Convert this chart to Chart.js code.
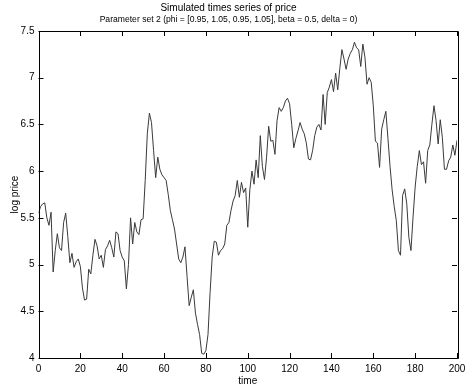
<!DOCTYPE html>
<html>
<head>
<meta charset="utf-8">
<script src="https://cdn.jsdelivr.net/npm/chart.js@4.4.1/dist/chart.umd.min.js"></script>
<style>
  html, body { margin: 0; padding: 0; background: #fff; }
  #chart { display: block; }
</style>
</head>
<body>
<canvas id="chart" width="471" height="391"></canvas>
<script>
// ── data ───────────────────────────────────────────────────────
const titleLine = 'Simulated times series of price';
const subtitleLine = 'Parameter set 2 (phi = [0.95, 1.05, 0.95, 1.05], beta = 0.5, delta = 0)';

const logPrice = [
  5.55, 5.62, 5.65, 5.66, 5.50, 5.42, 5.56, 4.92, 5.15, 5.33,
  5.18, 5.15, 5.45, 5.55, 5.30, 5.02, 5.12, 4.97, 5.03, 5.06,
  4.98, 4.75, 4.62, 4.63, 4.95, 4.90, 5.10, 5.27, 5.20, 5.06,
  5.10, 4.97, 5.16, 5.20, 5.26, 5.18, 5.08, 5.35, 5.33, 5.15,
  5.08, 5.04, 4.74, 5.00, 5.50, 5.22, 5.45, 5.35, 5.32, 5.48,
  5.49, 5.90, 6.40, 6.62, 6.52, 6.22, 5.93, 6.15, 6.02, 5.96,
  5.93, 5.90, 5.75, 5.58, 5.48, 5.38, 5.22, 5.06, 5.02, 5.08,
  5.19, 4.87, 4.56, 4.65, 4.73, 4.48, 4.36, 4.25, 4.05, 4.04,
  4.08, 4.25, 4.70, 5.08, 5.25, 5.24, 5.10, 5.15, 5.17, 5.22,
  5.42, 5.45, 5.58, 5.68, 5.74, 5.90, 5.72, 5.88, 5.77, 5.82,
  5.40, 5.80, 6.00, 5.86, 6.12, 5.93, 6.38, 6.05, 5.91, 6.15,
  6.48, 6.32, 6.33, 6.18, 6.54, 6.68, 6.64, 6.68, 6.75, 6.78,
  6.72, 6.50, 6.25, 6.35, 6.43, 6.52, 6.45, 6.40, 6.30, 6.13,
  6.12, 6.22, 6.38, 6.47, 6.50, 6.44, 6.82, 6.50, 6.84, 6.90,
  6.98, 6.85, 7.05, 6.87, 7.10, 7.30, 7.20, 7.09, 7.20, 7.26,
  7.30, 7.38, 7.32, 7.30, 7.12, 7.36, 7.22, 6.93, 7.00, 6.95,
  6.70, 6.32, 6.30, 6.04, 6.45, 6.55, 6.64, 6.35, 6.05, 5.80,
  5.62, 5.47, 5.15, 5.10, 5.74, 5.81, 5.65, 5.29, 5.15, 5.51,
  5.83, 6.05, 6.22, 6.07, 6.10, 5.87, 6.22, 6.28, 6.50, 6.70,
  6.54, 6.29, 6.55, 6.36, 6.02, 6.02, 6.11, 6.15, 6.28, 6.17,
  6.33
];
const timeSteps = logPrice.map((_, i) => i);

const xTicks = [0, 20, 40, 60, 80, 100, 120, 140, 160, 180, 200];
const yTicks = [4, 4.5, 5, 5.5, 6, 6.5, 7, 7.5];

// ── style ──────────────────────────────────────────────────────
const FONT_FAMILY = "'Liberation Sans', Arial, sans-serif";
const AXIS_COLOR = '#000';
const LINE_COLOR = '#3a3a3a';
const TICK_IN = 5;

// box + inward ticks on all four sides, like the original figure
const matlabBox = {
  id: 'matlabBox',
  afterDraw(chart) {
    const { ctx, chartArea: a, scales: { x, y } } = chart;
    ctx.save();
    ctx.strokeStyle = AXIS_COLOR;
    ctx.lineWidth = 1;
    ctx.beginPath();
    ctx.rect(Math.round(a.left) + 0.5, Math.round(a.top) + 0.5,
      Math.round(a.right - a.left), Math.round(a.bottom - a.top));
    xTicks.forEach(v => {
      const px = Math.round(x.getPixelForValue(v)) + 0.5;
      ctx.moveTo(px, a.bottom); ctx.lineTo(px, a.bottom - TICK_IN);
      ctx.moveTo(px, a.top); ctx.lineTo(px, a.top + TICK_IN);
    });
    yTicks.forEach(v => {
      const py = Math.round(y.getPixelForValue(v)) + 0.5;
      ctx.moveTo(a.left, py); ctx.lineTo(a.left + TICK_IN, py);
      ctx.moveTo(a.right, py); ctx.lineTo(a.right - TICK_IN, py);
    });
    ctx.stroke();
    ctx.restore();
  }
};

const ctx = document.getElementById('chart').getContext('2d');

new Chart(ctx, {
  type: 'line',
  data: {
    datasets: [{
      label: 'log price',
      data: timeSteps.map((t, i) => ({ x: t, y: logPrice[i] })),
      borderColor: LINE_COLOR,
      borderWidth: 1,
      pointRadius: 0,
      fill: false,
      tension: 0
    }]
  },
  options: {
    responsive: false,
    animation: false,
    layout: { padding: { left: 0, right: 14, top: 0, bottom: 0 } },
    plugins: {
      legend: { display: false },
      tooltip: { enabled: false },
      title: {
        display: true,
        text: titleLine,
        color: '#000',
        font: { family: FONT_FAMILY, size: 10, weight: 'normal', lineHeight: 1.2 },
        padding: { top: 2, bottom: 0 }
      },
      subtitle: {
        display: true,
        text: subtitleLine,
        color: '#000',
        font: { family: FONT_FAMILY, size: 8.6, weight: 'normal', lineHeight: 1.3 },
        padding: { top: 0, bottom: 5.8 }
      }
    },
    scales: {
      x: {
        type: 'linear',
        min: 0,
        max: 200,
        afterBuildTicks: s => { s.ticks = xTicks.map(v => ({ value: v })); },
        afterFit: s => { s.height = 33; },
        grid: { display: false, drawTicks: false },
        border: { display: false },
        ticks: {
          color: '#000',
          padding: 5,
          maxRotation: 0,
          font: { family: FONT_FAMILY, size: 10 }
        },
        title: {
          display: true,
          text: 'time',
          color: '#000',
          font: { family: FONT_FAMILY, size: 10 },
          padding: { top: 0, bottom: 4 }
        }
      },
      y: {
        type: 'linear',
        min: 4,
        max: 7.5,
        afterBuildTicks: s => { s.ticks = yTicks.map(v => ({ value: v })); },
        afterFit: s => { s.width = 38.5; },
        grid: { display: false, drawTicks: false },
        border: { display: false },
        ticks: {
          color: '#000',
          padding: 4,
          font: { family: FONT_FAMILY, size: 10 },
          callback: v => String(v)
        },
        title: {
          display: true,
          text: 'log price',
          color: '#000',
          font: { family: FONT_FAMILY, size: 10 },
          padding: { top: 9, bottom: 0 }
        }
      }
    }
  },
  plugins: [matlabBox]
});
</script>
</body>
</html>
